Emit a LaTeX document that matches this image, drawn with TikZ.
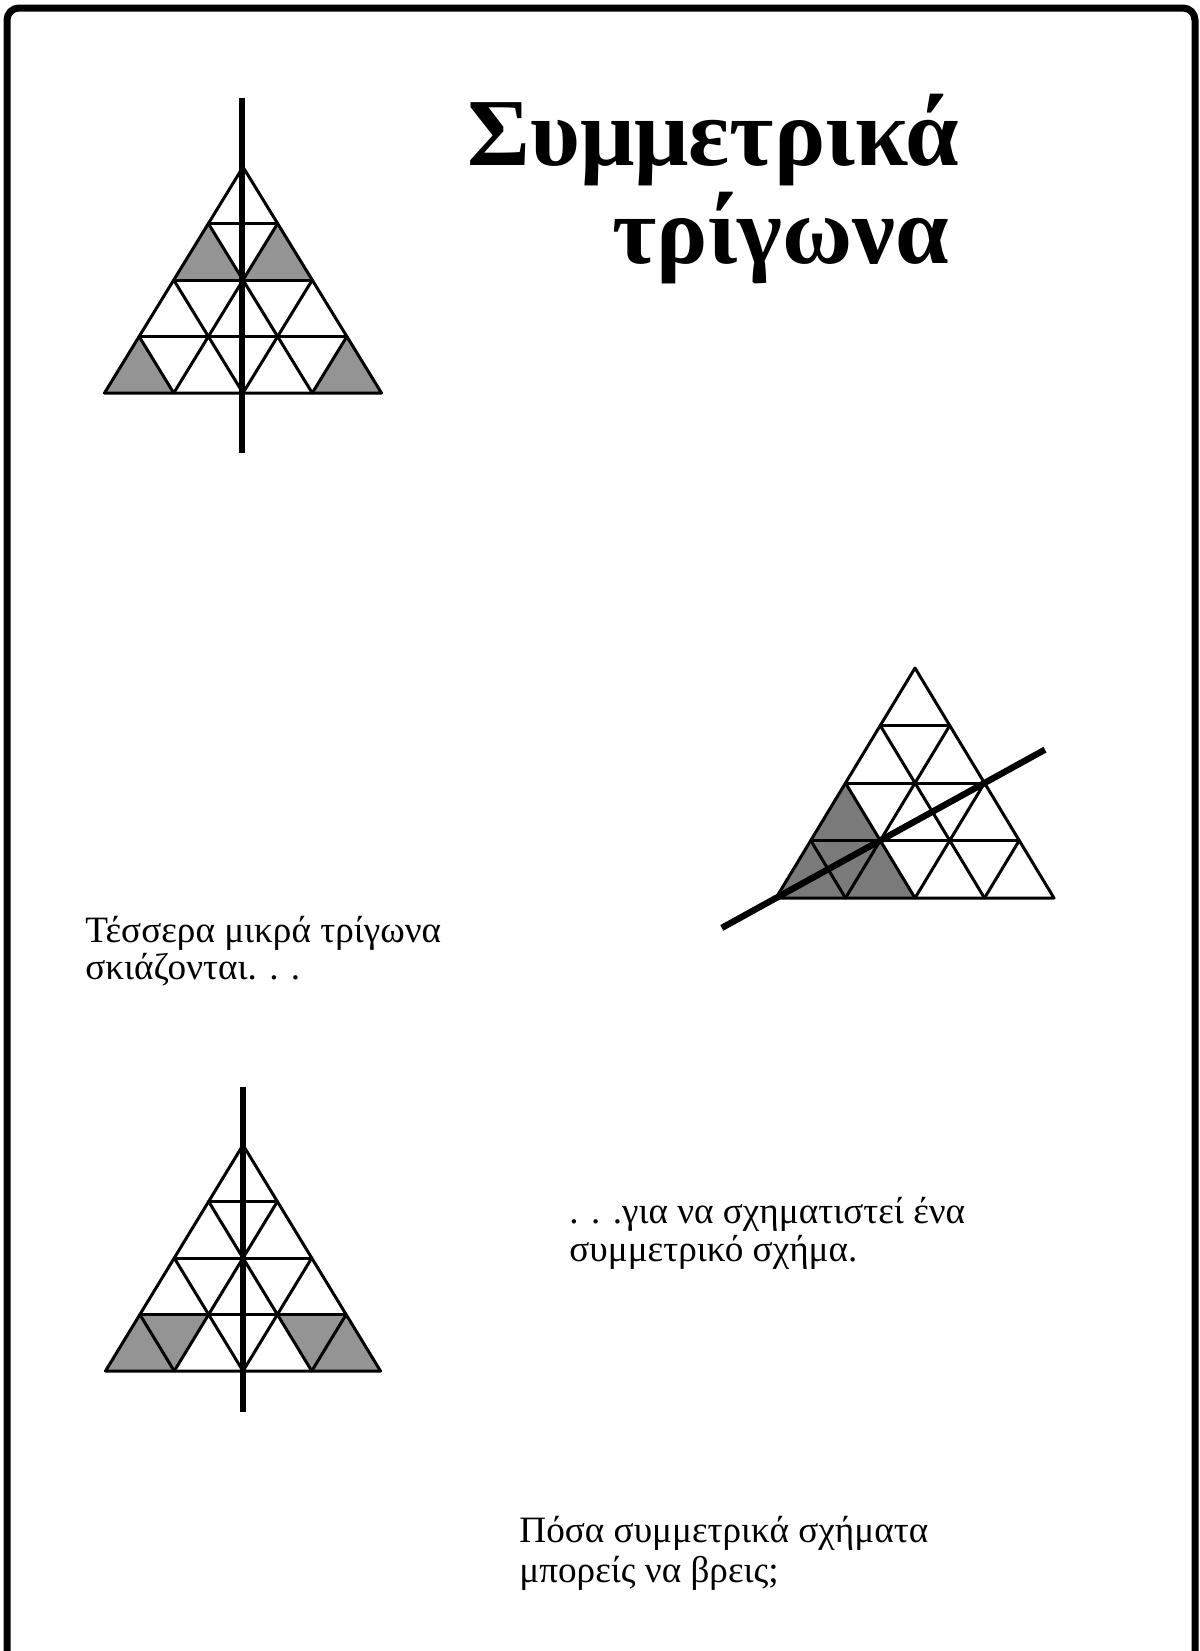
\documentclass[tikz,border=0pt]{standalone}
\usepackage{fontspec}
\setmainfont{Liberation Serif}
\usetikzlibrary{calc}
\newcommand\trigrid{%
  \draw[grid] (0,0) -- (0,4) -- (4,4) -- cycle;
  \foreach \r in {1,2,3} {
    \draw[grid] (0,\r) -- (\r,\r);
    \draw[grid] (\r,\r) -- (\r,4);
    \draw[grid] (0,\r) -- (4-\r,4);
  }}
\begin{document}
\begin{tikzpicture}[x=0.5pt,y=-0.5pt,
  grid/.style={line width=1.5pt, line join=round, line cap=round},
  axis/.style={line width=3.2pt},
  shade/.style={fill=black!42},
  darkshade/.style={fill=black!52},
  frame/.style={line width=3.5pt, rounded corners=6pt},
  txt/.style={inner sep=0pt, anchor=base west, font=\fontsize{18.6}{21}\selectfont},
  ttl/.style={inner sep=0pt, anchor=base west, font=\fontsize{48}{56}\selectfont\bfseries}]
\useasboundingbox (0,0) rectangle (1200,1651);
\fill[white] (0,0) rectangle (1200,1651);
% frame
\coordinate (fl) at (7,1651);
\coordinate (ftl) at (7,8);
\coordinate (ftr) at (1195,8);
\coordinate (fr) at (1195,1651);
\draw[frame] (fl) -- (ftl) -- (ftr) -- (fr);
% triangle 1
\begin{scope}[shift={(243,167)}, x={(34.625pt,0pt)}, y={(-17.3125pt,-28.25pt)}]
  \fill[shade] (0,1) -- (0,2) -- (1,2) -- cycle;
  \fill[shade] (1,1) -- (1,2) -- (2,2) -- cycle;
  \fill[shade] (0,3) -- (0,4) -- (1,4) -- cycle;
  \fill[shade] (3,3) -- (3,4) -- (4,4) -- cycle;
  \trigrid
\end{scope}
\coordinate (t1top) at (242,98);
\coordinate (t1bot) at (242,453);
\draw[axis] (t1top) -- (t1bot);
% triangle 2
\begin{scope}[shift={(915,668)}, x={(34.75pt,0pt)}, y={(-17.375pt,-28.75pt)}]
  \fill[darkshade] (0,2) -- (0,4) -- (2,4) -- cycle;
  \trigrid
  \coordinate (t2a) at (0,4);
  \coordinate (t2b) at (2,2);
\end{scope}
\draw[axis] ($(t2a)!-0.26!(t2b)$) -- ($(t2a)!1.29!(t2b)$);
% triangle 3
\begin{scope}[shift={(243,1145)}, x={(34.375pt,0pt)}, y={(-17.1875pt,-28.25pt)}]
  \fill[shade] (0,3) -- (0,4) -- (1,4) -- (1,3) -- cycle;
  \fill[shade] (2,3) -- (3,3) -- (4,4) -- (3,4) -- cycle;
  \trigrid
\end{scope}
\coordinate (t3top) at (243,1087);
\coordinate (t3bot) at (243,1412);
\draw[axis] (t3top) -- (t3bot);
% texts
\node[ttl] (title1) at (467,165) {Συμμετρικά};
\node[ttl] (title2) at (612,263) {τρίγωνα};
\node[txt] (a1) at (85,942) {Τέσσερα μικρά τρίγωνα};
\node[txt] (a2) at (85,979) {σκιάζονται. . .};
\node[txt] (b1) at (569,1223) {. . .για να σχηματιστεί ένα};
\node[txt] (b2) at (569,1261) {συμμετρικό σχήμα.};
\node[txt] (c1) at (519,1542) {Πόσα συμμετρικά σχήματα};
\node[txt] (c2) at (519,1582) {μπορείς να βρεις;};
\end{tikzpicture}
\end{document}
